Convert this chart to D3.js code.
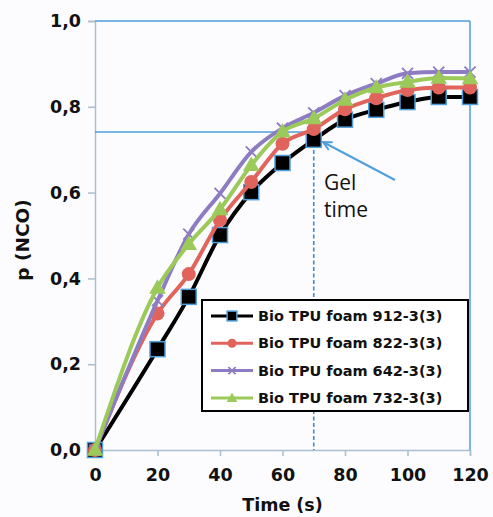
<!DOCTYPE html>
<html>
<head>
<meta charset="utf-8">
<script src="https://cdn.jsdelivr.net/npm/d3@7"></script>
<style>
body { margin: 0; background: #fcfcfe; }
svg { display: block; }
</style>
</head>
<body>
<svg></svg>
<script>
// data
let times = [0, 20, 30, 40, 50, 60, 70, 80, 90, 100, 110, 120];
let foam912 = [0, 0.235, 0.357, 0.501, 0.601, 0.669, 0.723, 0.770, 0.793, 0.811, 0.823, 0.823];
let foam822 = [0, 0.318, 0.410, 0.536, 0.625, 0.714, 0.748, 0.794, 0.820, 0.839, 0.845, 0.845];
let foam642 = [0, 0.348, 0.503, 0.598, 0.695, 0.750, 0.786, 0.826, 0.854, 0.878, 0.881, 0.881];
let foam732 = [0, 0.378, 0.480, 0.561, 0.664, 0.742, 0.773, 0.816, 0.845, 0.858, 0.867, 0.866];
let seriesNames = ["Bio TPU foam 912-3(3)", "Bio TPU foam 822-3(3)", "Bio TPU foam 642-3(3)", "Bio TPU foam 732-3(3)"];
let xTicks = [0, 20, 40, 60, 80, 100, 120];
let yTicks = [0, 0.2, 0.4, 0.6, 0.8, 1.0];
let gelP = 0.741;
let gelT = 70;

let width = 493, height = 517;
let mLeft = 95, mRight = 470, mTop = 21, mBottom = 450;
let blue = "#4f9fdc";
let font = "'DejaVu Sans', Verdana, sans-serif";

let svg = d3.select("svg").attr("width", width).attr("height", height);

let scaleX = d3.scaleLinear().domain([0, 120]).range([mLeft, mRight]);
let scaleY = d3.scaleLinear().domain([0, 1]).range([mBottom, mTop]);

// axes
let axisX = d3.axisBottom(scaleX).tickValues(xTicks).tickSize(6).tickFormat(d3.format("d"));
let axisY = d3.axisLeft(scaleY).tickValues(yTicks).tickSize(7).tickFormat(d => d3.format(".1f")(d).replace(".", ","));

let gx = svg.append("g").attr("transform", `translate(0, ${mBottom})`).call(axisX);
let gy = svg.append("g").attr("transform", `translate(${mLeft}, 0)`).call(axisY);
[gx, gy].forEach(g => {
  g.selectAll("path, line").attr("stroke", "#a9bfcd").attr("stroke-width", 1.5);
  g.selectAll("text").attr("fill", "#111").style("font-family", font)
    .style("font-weight", "bold").style("font-size", "17.5px");
});
gx.selectAll("text").attr("dy", "1.25em");
gy.selectAll("text").attr("x", -14);

// frame top and right
svg.append("line").attr("x1", mLeft).attr("x2", mRight).attr("y1", mTop).attr("y2", mTop)
  .attr("stroke", blue).attr("stroke-width", 1.5);
svg.append("line").attr("x1", mRight).attr("x2", mRight).attr("y1", mTop).attr("y2", mBottom)
  .attr("stroke", blue).attr("stroke-width", 1.5);

// axis titles
svg.append("text").attr("x", (mLeft + mRight) / 2).attr("y", 511).attr("text-anchor", "middle")
  .style("font-family", font).style("font-weight", "bold").style("font-size", "17.5px")
  .attr("fill", "#111").text("Time (s)");
svg.append("text").attr("transform", "translate(29, 240) rotate(-90)")
  .attr("text-anchor", "middle")
  .style("font-family", font).style("font-weight", "bold").style("font-size", "18.5px")
  .attr("fill", "#111").text("p (NCO)");

// gel time guides
svg.append("line").attr("x1", mLeft).attr("x2", scaleX(gelT)).attr("y1", scaleY(gelP)).attr("y2", scaleY(gelP))
  .attr("stroke", blue).attr("stroke-width", 1.5);
svg.append("line").attr("x1", scaleX(gelT)).attr("x2", scaleX(gelT)).attr("y1", scaleY(0.775)).attr("y2", mBottom)
  .attr("stroke", "#3a8cd6").attr("stroke-width", 1.6).attr("stroke-dasharray", "4,2.5");

let series = [
  { name: seriesNames[0], values: foam912, color: "#000000", mark: "square" },
  { name: seriesNames[1], values: foam822, color: "#e0645c", mark: "circle" },
  { name: seriesNames[2], values: foam642, color: "#8e7cc3", mark: "cross" },
  { name: seriesNames[3], values: foam732, color: "#9bc95a", mark: "triangle" }
];

let lineF = d3.line()
  .x(d => scaleX(d.x))
  .y(d => scaleY(d.y))
  .curve(d3.curveMonotoneX);

function drawMark(g, type, color, x, y, k) {
  k = k || 1;
  if (type == "square") {
    g.append("rect").attr("x", x - 7.5 * k).attr("y", y - 7.5 * k).attr("width", 15 * k).attr("height", 15 * k)
      .attr("fill", "#000").attr("stroke", blue).attr("stroke-width", 1.5);
  } else if (type == "circle") {
    g.append("circle").attr("cx", x).attr("cy", y).attr("r", 7 * k).attr("fill", color);
  } else if (type == "cross") {
    let s = 5.5 * k;
    g.append("path").attr("d", `M${x - s},${y - s}L${x + s},${y + s}M${x - s},${y + s}L${x + s},${y - s}`)
      .attr("stroke", color).attr("stroke-width", 1.8);
  } else {
    g.append("path").attr("d", d3.symbol().type(d3.symbolTriangle).size(120 * k * k)())
      .attr("transform", `translate(${x}, ${y + 1})`).attr("fill", color);
  }
}

series.forEach(s => {
  let pts = times.map((t, i) => ({ x: t, y: s.values[i] }));
  svg.append("path").datum(pts).attr("d", lineF)
    .attr("fill", "none").attr("stroke", s.color).attr("stroke-width", 4);
  let g = svg.append("g");
  pts.forEach(p => drawMark(g, s.mark, s.color, scaleX(p.x), scaleY(p.y)));
});

// arrow and label
svg.append("defs").append("marker").attr("id", "ah")
  .attr("viewBox", "0 0 10 10").attr("refX", 9).attr("refY", 5)
  .attr("markerWidth", 5).attr("markerHeight", 5).attr("orient", "auto")
  .append("path").attr("d", "M1,1L9,5L1,9").attr("fill", "none")
  .attr("stroke", blue).attr("stroke-width", 2).attr("stroke-linecap", "round");
svg.append("line").attr("x1", 395).attr("y1", 180).attr("x2", 323).attr("y2", 142)
  .attr("stroke", blue).attr("stroke-width", 2).attr("marker-end", "url(#ah)");
svg.append("text").attr("x", 324).attr("y", 190).style("font-family", "'Open Sans', sans-serif")
  .style("font-size", "21px").attr("fill", "#111").text("Gel");
svg.append("text").attr("x", 324).attr("y", 217).style("font-family", "'Open Sans', sans-serif")
  .style("font-size", "21px").attr("fill", "#111").text("time");

// legend
let lg = svg.append("g");
lg.append("rect").attr("x", 202).attr("y", 300).attr("width", 266).attr("height", 111)
  .attr("fill", "#fff").attr("stroke", "#000").attr("stroke-width", 2);
series.forEach((s, i) => {
  let y = 316 + i * 27.3;
  lg.append("line").attr("x1", 211).attr("x2", 253).attr("y1", y).attr("y2", y)
    .attr("stroke", s.color).attr("stroke-width", 3);
  drawMark(lg, s.mark, s.color, 232, y, 0.65);
  lg.append("text").attr("x", 258).attr("y", y + 5).style("font-family", font)
    .style("font-weight", "bold").style("font-size", "14.5px").attr("fill", "#111").text(s.name);
});
</script>
</body>
</html>
